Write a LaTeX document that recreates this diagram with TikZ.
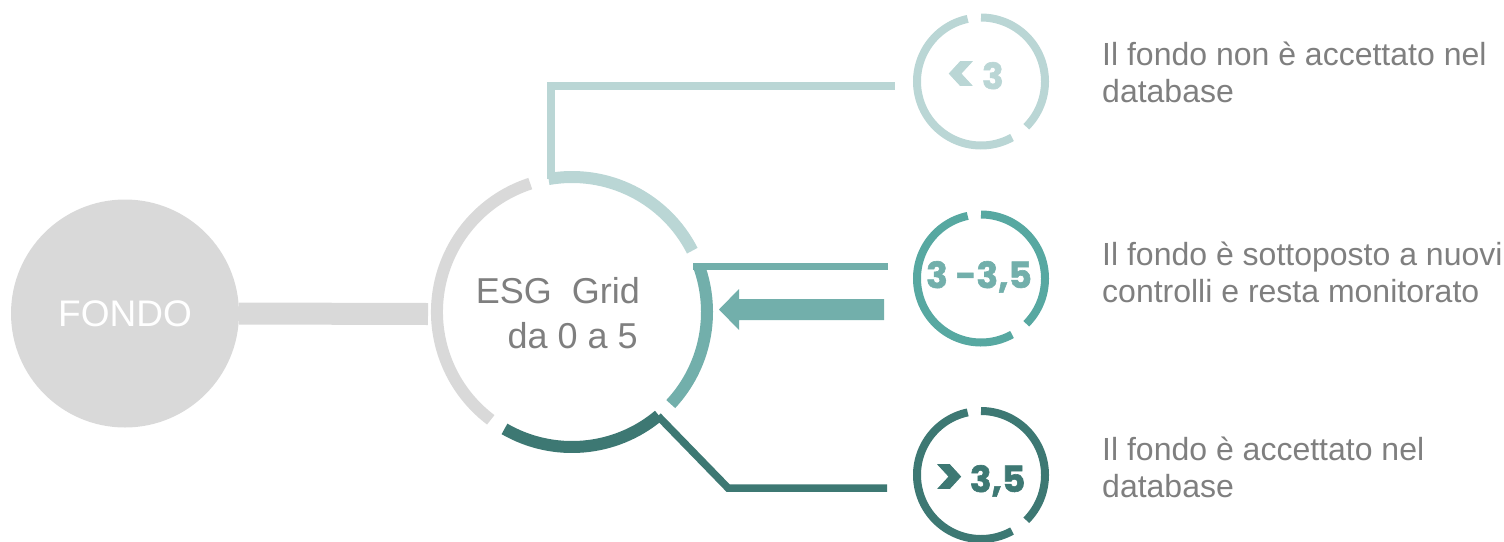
\documentclass[tikz,border=0pt]{standalone}
\usepackage{fontspec}
\setmainfont{Liberation Sans}
\newfontfamily\numfont{Poppins}[BoldFeatures={FakeBold=1.6}]
\usetikzlibrary{calc}
\definecolor{cgray}{HTML}{D9D9D9}
\definecolor{clight}{HTML}{BAD6D5}
\definecolor{cmid}{HTML}{72AFAB}
\definecolor{cmidring}{HTML}{57A8A1}
\definecolor{cdark}{HTML}{3D7873}
\definecolor{ctext}{HTML}{7F7F7F}
\newcommand{\bigsym}[1]{{\fontsize{54}{54}\selectfont\raisebox{-3.5pt}{#1}}}
\begin{document}
\begin{tikzpicture}[x=1pt,y=-1pt,
  bigring/.style={line width=12pt},
  smallring/.style={line width=8pt},
  conn/.style={line width=7.5pt},
  numtxt/.style={anchor=base, inner sep=0pt, font=\numfont\bfseries\fontsize{36}{40}\selectfont},
  desc/.style={anchor=base west, inner sep=0pt, text=ctext, font=\fontsize{32}{37}\selectfont},
  holder/.style={circle, inner sep=0pt}]
\useasboundingbox (0,0) rectangle (1504,541);

% FONDO
\node[holder, fill=cgray, minimum size=228pt, text=white,
      font=\fontsize{37}{44}\selectfont] (fondo) at (125,313.5) {FONDO};
\coordinate (barend) at (428,314);
\draw[cgray, line width=22pt] (fondo.east) -- (barend);

% central ring
\node[holder, minimum size=270pt] (esg) at (572,312) {};
\draw[cgray, bigring] ($(esg.center)+(-108:135)$) arc[start angle=-108, end angle=-233, radius=135];
\draw[clight, bigring] ($(esg.center)+(-27:135)$) arc[start angle=-27, end angle=-100, radius=135];
\draw[cmid, bigring] ($(esg.center)+(43:135)$) arc[start angle=43, end angle=-20, radius=135];
\draw[cdark, bigring] ($(esg.center)+(-240:135)$) arc[start angle=-240, end angle=-310, radius=135];

\node[anchor=base east, inner sep=0pt, text=ctext, font=\fontsize{36}{43}\selectfont] (esg1) at (640,303) {ESG\ \ Grid};
\node[anchor=base east, inner sep=0pt, text=ctext, font=\fontsize{36}{43}\selectfont] (esg2) at (638,348) {da 0 a 5};

% small circles
\node[holder, minimum size=136pt] (c1) at (981,81.5) {};
\node[holder, minimum size=136pt] (c2) at (981,278.5) {};
\node[holder, minimum size=136pt] (c3) at (981,475) {};
\foreach \c/\col in {c1/clight, c2/cmidring, c3/cdark}{
  \draw[\col, smallring] ($(\c.center)+(-102:64)$) arc[start angle=-102, end angle=-299, radius=64];
  \draw[\col, smallring] ($(\c.center)+(45:64)$) arc[start angle=45, end angle=-90, radius=64];
}
\node[numtxt, text=clight] (t1) at (975,89) {\bigsym{<}\,3};
\node[numtxt, text=cmid] (t2) at (979,288) {3 -3,5};
\node[numtxt, text=cdark] (t3) at (980,492) {\bigsym{>}\,3,5};

% connectors
\coordinate (a1) at (551,179);
\coordinate (a2) at (551,85.5);
\coordinate (a3) at (895,85.5);
\draw[clight, line width=8pt] (a1) -- (a2) -- (a3);

\coordinate (b1) at (693,266.5);
\coordinate (b2) at (888,266.5);
\draw[cmid, conn] (b1) -- (b2);

\coordinate (d1) at (658,416);
\coordinate (d2) at (728,488);
\coordinate (d3) at (887,488);
\draw[cdark, conn] (d1) -- (d2) -- (d3);

% block arrow
\fill[cmid] (884,299) -- (739,299) -- (739,289) -- (719,309.5) -- (739,330) -- (739,320) -- (884,320) -- cycle;

% descriptions
\node[desc] (r1a) at (1102,65) {Il fondo non è accettato nel};
\node[desc] (r1b) at (1102,102) {database};
\node[desc] (r2a) at (1102,265) {Il fondo è sottoposto a nuovi};
\node[desc] (r2b) at (1102,302) {controlli e resta monitorato};
\node[desc] (r3a) at (1102,460) {Il fondo è accettato nel};
\node[desc] (r3b) at (1102,497) {database};
\end{tikzpicture}
\end{document}
